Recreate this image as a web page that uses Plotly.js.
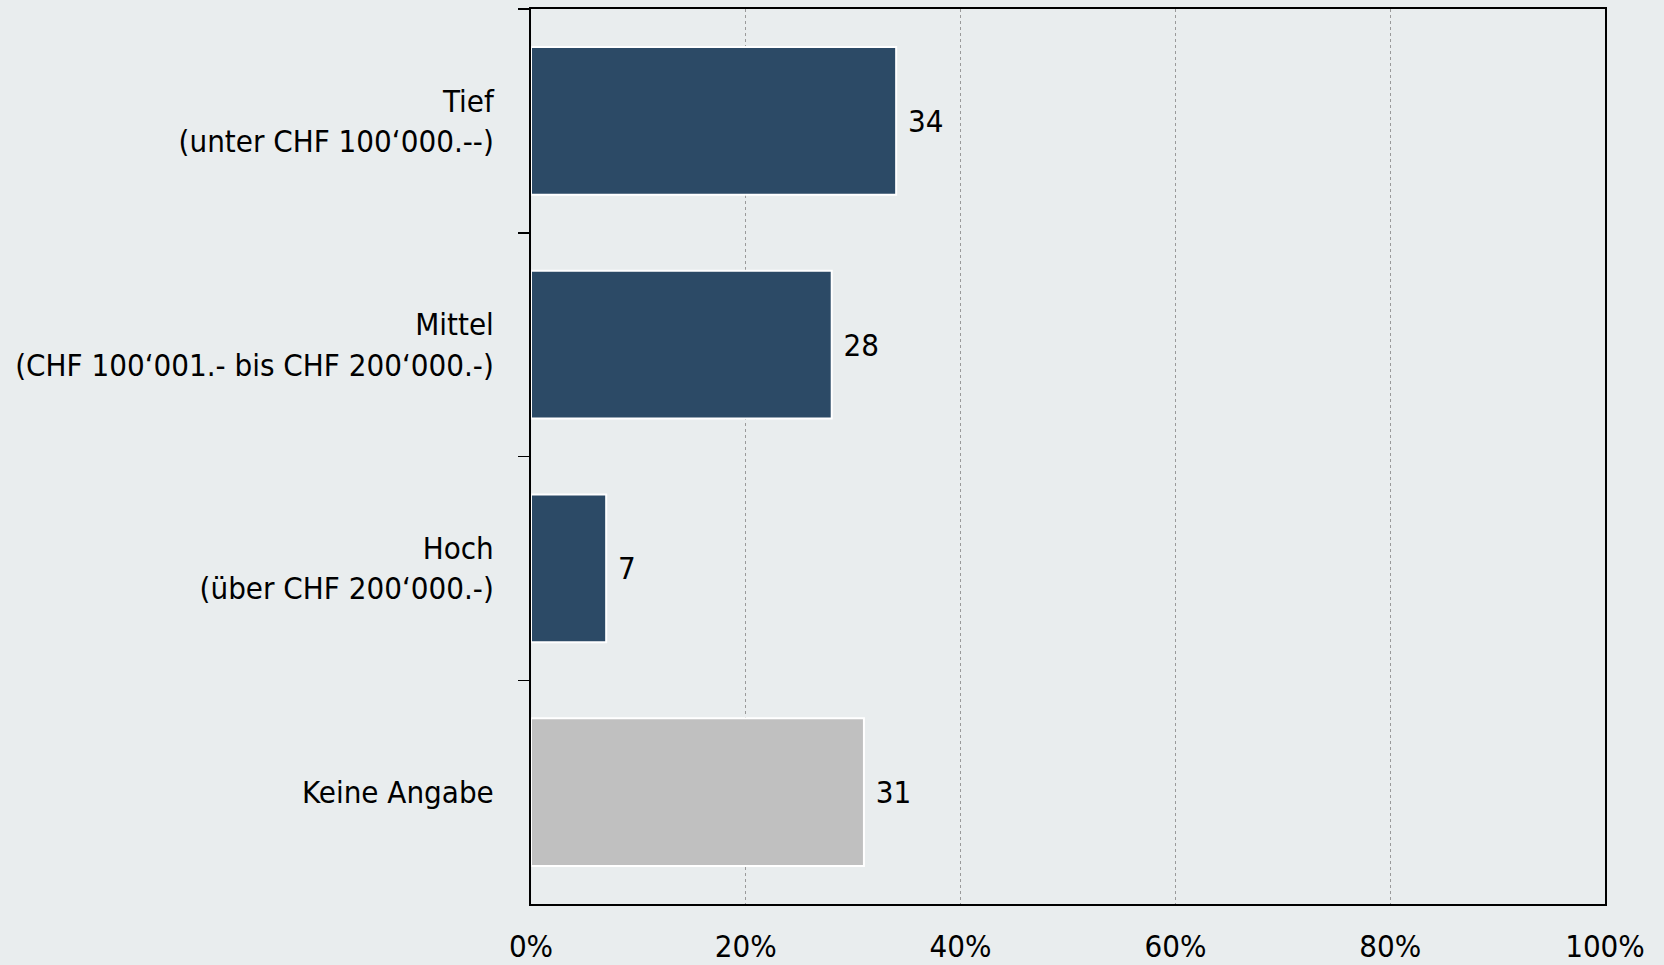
<!DOCTYPE html>
<html>
<head>
<meta charset="utf-8">
<script src="https://cdn.plot.ly/plotly-3.0.1.min.js"></script>
<style>html,body{margin:0;padding:0;background:#E9EDEE;}#chart{width:1664px;height:965px;}</style>
</head>
<body>
<div id="chart"></div>
<script>
const categories = [
  "Tief<br>(unter CHF 100‘000.--)",
  "Mittel<br>(CHF 100‘001.- bis CHF 200‘000.-)",
  "Hoch<br>(über CHF 200‘000.-)",
  "Keine Angabe"
];
const values = [34, 28, 7, 31];
const barColors = ["#2C4A66", "#2C4A66", "#2C4A66", "#C0C0C0"];
const xTickVals = [0, 20, 40, 60, 80, 100];
const xTickText = ["0%", "20%", "40%", "60%", "80%", "100%"];

const fontFam = "DejaVu Sans Condensed, DejaVu Sans, sans-serif";

Plotly.newPlot("chart", [{
  type: "bar",
  orientation: "h",
  y: categories,
  x: values,
  text: values.map(v => " " + v),
  textposition: "outside",
  cliponaxis: false,
  textfont: {family: fontFam, size: 31, color: "#000"},
  marker: {color: barColors, line: {color: "#FFFFFF", width: 2}},
  hoverinfo: "none"
}], {
  width: 1664, height: 965,
  margin: {l: 531, r: 59, t: 9, b: 61, pad: 0},
  paper_bgcolor: "#E9EDEE",
  plot_bgcolor: "#E9EDEE",
  bargap: 0.34,
  showlegend: false,
  font: {family: fontFam, size: 31, color: "#000"},
  xaxis: {
    range: [0, 100],
    tickvals: xTickVals,
    ticktext: xTickText,
    ticks: "",
    ticklabelstandoff: 14,
    showgrid: true,
    gridcolor: "#9A9A9A",
    griddash: "dot",
    gridwidth: 1,
    showline: true,
    linecolor: "#000",
    linewidth: 2,
    mirror: true,
    zeroline: false,
    tickfont: {family: fontFam, size: 31, color: "#000"}
  },
  yaxis: {
    type: "category",
    autorange: "reversed",
    tickson: "boundaries",
    ticks: "outside",
    ticklen: 11,
    tickwidth: 1.5,
    tickcolor: "#000",
    ticklabelstandoff: 29,
    showgrid: false,
    showline: true,
    linecolor: "#000",
    linewidth: 2,
    mirror: true,
    zeroline: false,
    tickfont: {family: fontFam, size: 31, color: "#000"}
  }
}, {displayModeBar: false, staticPlot: true});
</script>
</body>
</html>
